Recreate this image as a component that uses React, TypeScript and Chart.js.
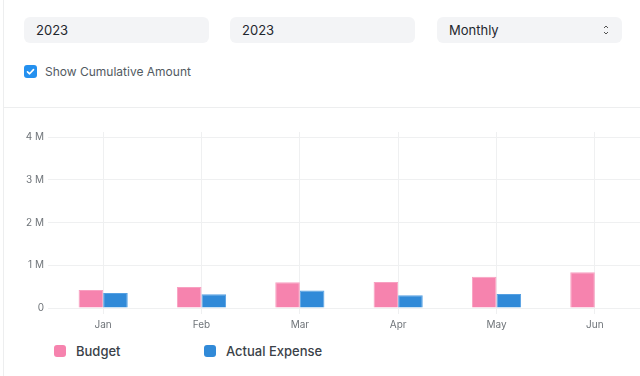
import React, { useEffect, useRef } from "react";
import { Chart, registerables } from "chart.js";

Chart.register(...registerables);

const months = ["Jan", "Feb", "Mar", "Apr", "May", "Jun"];
const budget = [420000, 490000, 600000, 610000, 730000, 835000];
const actualExpense = [350000, 320000, 410000, 300000, 330000, null];
const yTicks = [0, 1000000, 2000000, 3000000, 4000000];
const yMax = 4120000;
const seriesNames = ["Budget", "Actual Expense"];
const seriesColors = ["#F683AE", "#318AD8"];
const seriesBorders = ["#F8A0C1", "#55A0E2"];
const fromYear = "2023";
const toYear = "2023";
const periodicity = "Monthly";
const checkboxLabel = "Show Cumulative Amount";

const FONT = "Inter, 'Noto Sans', sans-serif";
const GRID = "#EFF0F1";
const TICK = "#6F7479";

function fmt(v: number) {
  return v === 0 ? "0" : `${v / 1000000} M`;
}

const inputStyle: React.CSSProperties = {
  position: "absolute",
  top: 17,
  height: 26,
  width: 185,
  background: "#F3F4F6",
  borderRadius: 6,
  boxSizing: "border-box",
  paddingLeft: 12,
  display: "flex",
  alignItems: "center",
  fontSize: 13,
  color: "#1F272E",
  fontFamily: FONT,
};

export default function App() {
  const ref = useRef<HTMLCanvasElement | null>(null);

  useEffect(() => {
    if (!ref.current) return;
    const chart = new Chart(ref.current, {
      type: "bar",
      data: {
        labels: months,
        datasets: [
          {
            label: seriesNames[0],
            data: budget,
            backgroundColor: seriesColors[0],
            borderColor: seriesBorders[0],
            borderWidth: 1,
            borderSkipped: "bottom",
            categoryPercentage: 0.5,
            barPercentage: 1,
          },
          {
            label: seriesNames[1],
            data: actualExpense as any,
            backgroundColor: seriesColors[1],
            borderColor: seriesBorders[1],
            borderWidth: 1,
            borderSkipped: "bottom",
            categoryPercentage: 0.5,
            barPercentage: 1,
          },
        ],
      },
      options: {
        animation: false,
        responsive: false,
        maintainAspectRatio: false,
        layout: { padding: { top: 22, right: 16, left: 0, bottom: 0 } },
        plugins: {
          legend: { display: false },
          tooltip: { enabled: false },
        },
        scales: {
          x: {
            grid: { color: GRID, offset: false, tickLength: 6, drawTicks: true },
            border: { display: false },
            ticks: {
              color: TICK,
              font: { family: FONT, size: 10 },
              padding: 5,
              maxRotation: 0,
            },
            afterFit: (s: any) => {
              s.height = 32;
            },
          },
          y: {
            min: 0,
            max: yMax,
            afterBuildTicks: (s: any) => {
              s.ticks = yTicks.map((v) => ({ value: v }));
            },
            grid: { color: GRID, tickLength: 6, drawTicks: true },
            border: { display: false },
            ticks: {
              color: TICK,
              font: { family: FONT, size: 10 },
              padding: 4,
              callback: (v: any) => fmt(Number(v)),
            },
            afterFit: (s: any) => {
              s.width = 54;
            },
          },
        },
      },
    });
    return () => chart.destroy();
  }, []);

  return (
    <div
      style={{
        position: "fixed",
        left: 0,
        top: 0,
        width: 640,
        height: 376,
        overflow: "hidden",
        background: "#fff",
        fontFamily: FONT,
      }}
    >
      <div style={{ position: "absolute", left: 3, top: 0, width: 1, height: 376, background: "#EDEEEF" }} />
      <div style={{ position: "absolute", left: 3, top: 107, width: 640, height: 1, background: "#EDEEEF" }} />

      <div style={{ ...inputStyle, left: 24 }}>{fromYear}</div>
      <div style={{ ...inputStyle, left: 230 }}>{toYear}</div>
      <div style={{ ...inputStyle, left: 437 }}>
        {periodicity}
        <svg
          width="8"
          height="12"
          viewBox="0 0 8 12"
          style={{ position: "absolute", right: 12, top: 7 }}
        >
          <path d="M2 4 L4 2 L6 4" fill="none" stroke="#525252" strokeWidth="1" />
          <path d="M2 8 L4 10 L6 8" fill="none" stroke="#525252" strokeWidth="1" />
        </svg>
      </div>

      <div
        style={{
          position: "absolute",
          left: 24,
          top: 65,
          width: 13,
          height: 13,
          borderRadius: 3,
          background: "#2490EF",
        }}
      >
        <svg width="13" height="13" viewBox="0 0 13 13" style={{ position: "absolute", left: 0, top: 0 }}>
          <path d="M3.5 6.8 L5.6 8.8 L9.5 4.6" fill="none" stroke="#fff" strokeWidth="1.6" strokeLinecap="round" strokeLinejoin="round" />
        </svg>
      </div>
      <div
        style={{
          position: "absolute",
          left: 45,
          top: 64,
          height: 16,
          lineHeight: "16px",
          fontSize: 12,
          color: "#525A62",
        }}
      >
        {checkboxLabel}
      </div>

      <canvas
        ref={ref}
        width={660}
        height={230}
        style={{ position: "absolute", left: 0, top: 110, width: 660, height: 230 }}
      />

      <div style={{ position: "absolute", left: 54, top: 343, display: "flex" }}>
        {seriesNames.map((name, i) => (
          <div key={name} style={{ width: 150, display: "flex", alignItems: "center", height: 16 }}>
            <div
              style={{
                width: 12,
                height: 12,
                borderRadius: 3,
                background: seriesColors[i],
                marginRight: 10,
              }}
            />
            <span style={{ fontSize: 13, fontWeight: 500, color: "#3A4148" }}>{name}</span>
          </div>
        ))}
      </div>
    </div>
  );
}
